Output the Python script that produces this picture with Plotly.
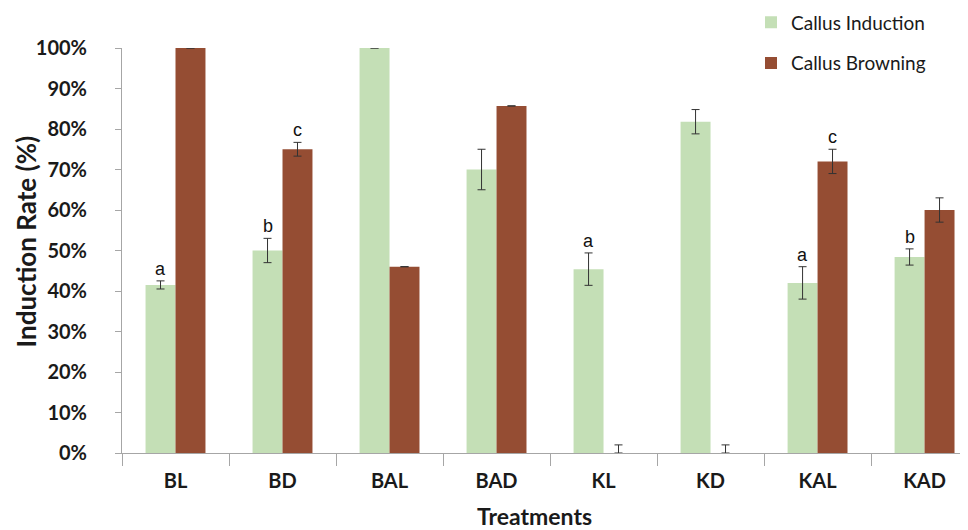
import plotly.graph_objects as go

treatments = ["BL", "BD", "BAL", "BAD", "KL", "KD", "KAL", "KAD"]
induction = [41.5, 50, 100, 70, 45.4, 81.8, 42, 48.4]
induction_err = [1, 3, 0, 5, 4, 3, 4, 2]
browning = [100, 75, 46, 85.7, 0, 0, 72, 60]
browning_err_plus = [0, 1.7, 0, 0, 2, 2, 3, 3]
browning_err_minus = [0, 1.7, 0, 0, 0, 0, 3, 3]
induction_letters = ["a", "b", "", "", "a", "", "a", "b"]
browning_letters = ["", "c", "", "", "", "", "c", ""]
y_ticks = [0, 10, 20, 30, 40, 50, 60, 70, 80, 90, 100]
y_tick_labels = ["0%", "10%", "20%", "30%", "40%", "50%", "60%", "70%", "80%", "90%", "100%"]

GREEN = "#C4DFB6"
BROWN = "#954D33"
ERR = "#333333"
AXIS = "#A6A6A6"
TXT = "#1a1a1a"

fig = go.Figure()
fig.add_trace(go.Bar(
    x=treatments, y=induction, name="Callus Induction",
    marker=dict(color=GREEN, line=dict(width=0)),
    error_y=dict(type="data", array=induction_err, color=ERR, thickness=1, width=4),
    legendgroup="g1",
))
fig.add_trace(go.Bar(
    x=treatments, y=browning, name="Callus Browning",
    marker=dict(color=BROWN, line=dict(width=0)),
    error_y=dict(type="data", array=browning_err_plus, arrayminus=browning_err_minus,
                 symmetric=False, color=ERR, thickness=1, width=4),
    legendgroup="g2",
))

annotations = []
for i, t in enumerate(treatments):
    if induction_letters[i]:
        annotations.append(dict(x=t, y=induction[i] + induction_err[i], text=induction_letters[i],
                                xshift=-15, yshift=0, yanchor="bottom", showarrow=False,
                                font=dict(family="Liberation Sans, Arial", size=18, color="#111")))
    if browning_letters[i]:
        annotations.append(dict(x=t, y=browning[i] + browning_err_plus[i], text=browning_letters[i],
                                xshift=15, yshift=0, yanchor="bottom", showarrow=False,
                                font=dict(family="Liberation Sans, Arial", size=18, color="#111")))

# axis titles
annotations.append(dict(text="<b>Induction Rate (%)</b>", xref="paper", yref="paper",
                        x=0, y=0.5, xshift=-97, yshift=9, textangle=-90,
                        xanchor="center", yanchor="middle", showarrow=False,
                        font=dict(size=26, color=TXT)))
annotations.append(dict(text="<b>Treatments</b>", xref="paper", yref="paper",
                        x=0, y=0, xshift=412, yshift=-63,
                        xanchor="center", yanchor="middle", showarrow=False,
                        font=dict(size=23, color=TXT)))

fig.update_layout(
    width=960, height=522,
    margin=dict(l=114, r=0, t=40, b=77, autoexpand=False),
    paper_bgcolor="white", plot_bgcolor="white",
    barmode="group", bargap=0.44, bargroupgap=0,
    font=dict(family="Lato, Open Sans, sans-serif", color=TXT),
    legend=dict(x=0.7435, y=1.11, xanchor="left", yanchor="top",
                font=dict(size=19, color=TXT), tracegroupgap=13,
                traceorder="grouped", bgcolor="rgba(0,0,0,0)",
                itemwidth=30),
    annotations=annotations,
    xaxis=dict(
        range=[-0.5, 7.406], showline=True, linecolor=AXIS, linewidth=1,
        ticks="outside", tickson="boundaries", ticklen=12, tickcolor=AXIS,
        tickfont=dict(size=20, family="Lato, sans-serif", weight="bold", color=TXT),
        ticklabelstandoff=10,
        showgrid=False,
    ),
    yaxis=dict(
        range=[0, 100], tickmode="array", tickvals=y_ticks, ticktext=y_tick_labels,
        showline=True, linecolor=AXIS, linewidth=1,
        ticks="outside", ticklen=6, tickcolor=AXIS,
        tickfont=dict(size=20, family="Lato, sans-serif", weight="bold", color=TXT),
        ticklabelstandoff=24,
        showgrid=False, zeroline=False,
    ),
)

fig.write_html("out.html")
